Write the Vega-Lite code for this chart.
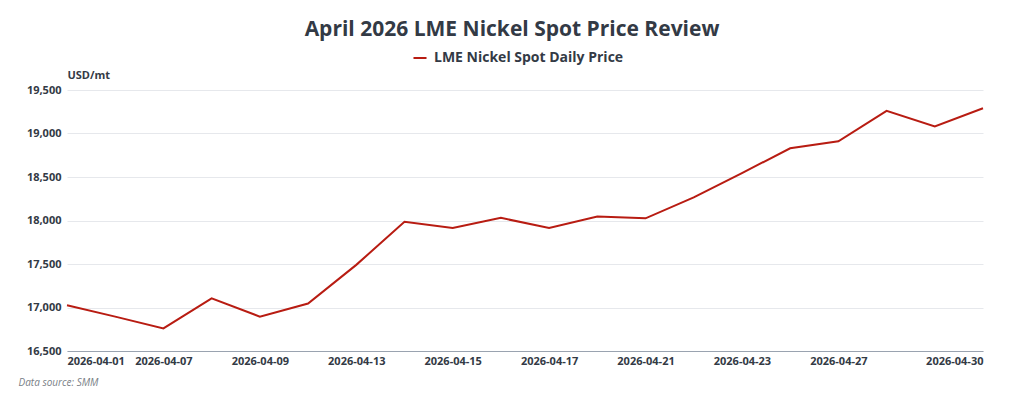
{
  "$schema": "https://vega.github.io/schema/vega-lite/v6.json",
  "width": 916,
  "height": 261,
  "autosize": {"type": "none"},
  "padding": {"left": 67, "top": 90, "right": 41, "bottom": 48},
  "background": "white",
  "title": {
    "text": "April 2026 LME Nickel Spot Price Review",
    "font": "Open Sans",
    "fontSize": 21,
    "fontWeight": "bold",
    "color": "#333a45",
    "anchor": "middle",
    "offset": 10,
    "dx": -13
  },
  "config": {
    "view": {"stroke": null},
    "font": "Open Sans"
  },
  "data": {
    "values": [
      {"date": "2026-04-01", "price": 17025, "series": "LME Nickel Spot Daily Price"},
      {"date": "2026-04-02", "price": 16895, "series": "LME Nickel Spot Daily Price"},
      {"date": "2026-04-07", "price": 16760, "series": "LME Nickel Spot Daily Price"},
      {"date": "2026-04-08", "price": 17105, "series": "LME Nickel Spot Daily Price"},
      {"date": "2026-04-09", "price": 16895, "series": "LME Nickel Spot Daily Price"},
      {"date": "2026-04-10", "price": 17045, "series": "LME Nickel Spot Daily Price"},
      {"date": "2026-04-13", "price": 17490, "series": "LME Nickel Spot Daily Price"},
      {"date": "2026-04-14", "price": 17985, "series": "LME Nickel Spot Daily Price"},
      {"date": "2026-04-15", "price": 17915, "series": "LME Nickel Spot Daily Price"},
      {"date": "2026-04-16", "price": 18030, "series": "LME Nickel Spot Daily Price"},
      {"date": "2026-04-17", "price": 17915, "series": "LME Nickel Spot Daily Price"},
      {"date": "2026-04-20", "price": 18045, "series": "LME Nickel Spot Daily Price"},
      {"date": "2026-04-21", "price": 18025, "series": "LME Nickel Spot Daily Price"},
      {"date": "2026-04-22", "price": 18265, "series": "LME Nickel Spot Daily Price"},
      {"date": "2026-04-23", "price": 18545, "series": "LME Nickel Spot Daily Price"},
      {"date": "2026-04-24", "price": 18830, "series": "LME Nickel Spot Daily Price"},
      {"date": "2026-04-27", "price": 18910, "series": "LME Nickel Spot Daily Price"},
      {"date": "2026-04-28", "price": 19260, "series": "LME Nickel Spot Daily Price"},
      {"date": "2026-04-29", "price": 19080, "series": "LME Nickel Spot Daily Price"},
      {"date": "2026-04-30", "price": 19290, "series": "LME Nickel Spot Daily Price"}
    ]
  },
  "mark": {"type": "line", "strokeWidth": 2},
  "encoding": {
    "x": {
      "field": "date",
      "type": "ordinal",
      "sort": null,
      "scale": {"type": "point", "padding": 0},
      "axis": {
        "values": ["2026-04-01", "2026-04-07", "2026-04-09", "2026-04-13", "2026-04-15", "2026-04-17", "2026-04-21", "2026-04-23", "2026-04-27", "2026-04-30"],
        "labelAngle": 0,
        "labelFont": "Open Sans",
        "labelFontSize": 11,
        "labelFontWeight": "bold",
        "labelColor": "#333a45",
        "labelPadding": 4,
        "labelAlign": {
          "condition": [
            {"test": "datum.value === '2026-04-01'", "value": "left"},
            {"test": "datum.value === '2026-04-30'", "value": "right"}
          ],
          "value": "center"
        },
        "ticks": false,
        "domainColor": "#9aa3b0",
        "domainWidth": 1,
        "grid": false,
        "title": "Data source:  SMM",
        "titleFont": "Open Sans",
        "titleFontSize": 10,
        "titleFontWeight": "normal",
        "titleFontStyle": "italic",
        "titleColor": "#7a7f87",
        "titleAnchor": "start",
        "titleAlign": "left",
        "titleX": -49,
        "titleY": 31,
        "titleBaseline": "middle"
      }
    },
    "y": {
      "field": "price",
      "type": "quantitative",
      "scale": {"domain": [16500, 19500], "nice": false, "zero": false},
      "axis": {
        "values": [16500, 17000, 17500, 18000, 18500, 19000, 19500],
        "format": ",.0f",
        "labelFont": "Open Sans",
        "labelFontSize": 11,
        "labelFontWeight": "bold",
        "labelColor": "#333a45",
        "labelPadding": 6,
        "ticks": false,
        "domain": false,
        "gridColor": "#e6e8ec",
        "gridWidth": 1,
        "title": "USD/mt",
        "titleFont": "Open Sans",
        "titleFontSize": 11,
        "titleFontWeight": "bold",
        "titleColor": "#333a45",
        "titleAngle": 0,
        "titleAlign": "left",
        "titleBaseline": "middle",
        "titleX": 0,
        "titleY": -15
      }
    },
    "color": {
      "field": "series",
      "type": "nominal",
      "scale": {"range": ["#b81c12"]},
      "legend": {
        "title": null,
        "orient": "none",
        "legendX": 345,
        "legendY": -40,
        "symbolType": "stroke",
        "symbolStrokeWidth": 2,
        "symbolSize": 170,
        "labelFont": "Open Sans",
        "labelFontSize": 14,
        "labelFontWeight": "bold",
        "labelColor": "#333a45",
        "labelOffset": 6,
        "labelLimit": 400
      }
    }
  }
}
